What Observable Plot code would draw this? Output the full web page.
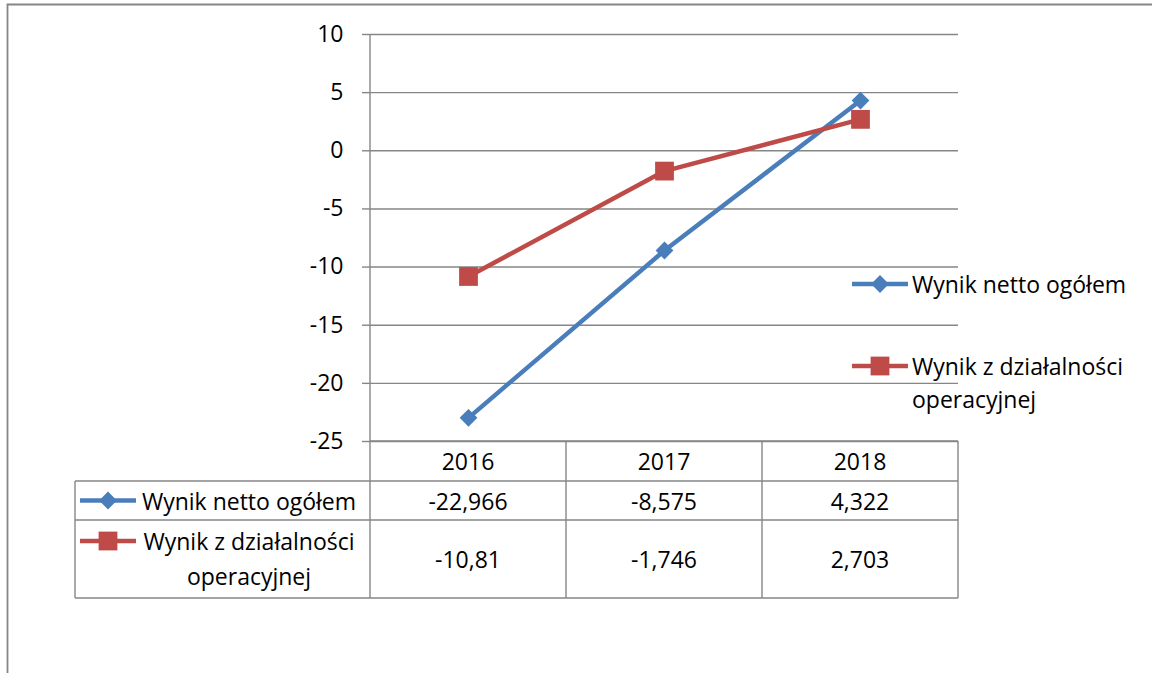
<!DOCTYPE html>
<html><head><meta charset="utf-8">
<script src="https://cdn.jsdelivr.net/npm/d3@7"></script>
<script src="https://cdn.jsdelivr.net/npm/@observablehq/plot@0.6"></script>
<style>body{margin:0;background:#fff;} svg{display:block}</style>
</head><body><div id="chart"></div>
<script>
const years = ["2016", "2017", "2018"];
const seriesNames = ["Wynik netto ogółem", "Wynik z działalności operacyjnej"];
const seriesLabelLines = [["Wynik netto ogółem"], ["Wynik z działalności", "operacyjnej"]];
const nettoValues = [-22.966, -8.575, 4.322];
const operValues = [-10.81, -1.746, 2.703];
const nettoText = ["-22,966", "-8,575", "4,322"];
const operText = ["-10,81", "-1,746", "2,703"];
const yTicks = [10, 5, 0, -5, -10, -15, -20, -25];
const colors = ["#4A7EBB", "#BE4B48"];
const symbolNames = ["diamond2", "square"];

const FONT = "'Open Sans', sans-serif";
const FS = 23;
const W = 1152, H = 673;
const M = {left: 370, right: 194, top: 34, bottom: 232};
const GRID = "#868686";

const rows = [];
years.forEach((y, i) => {
  rows.push({year: y, series: seriesNames[0], value: nettoValues[i]});
  rows.push({year: y, series: seriesNames[1], value: operValues[i]});
});
const R = [8, 10.6];

const plot = Plot.plot({
  width: W, height: H,
  marginLeft: M.left, marginRight: M.right, marginTop: M.top, marginBottom: M.bottom,
  style: {fontFamily: FONT, fontSize: FS + "px", color: "#000", background: "#fff", overflow: "visible"},
  x: {type: "point", domain: years, padding: 0.5, axis: null},
  y: {domain: [-25, 10], axis: null},
  color: {domain: seriesNames, range: colors},
  symbol: {domain: seriesNames, range: symbolNames},
  marks: [
    Plot.gridY(yTicks, {stroke: GRID, strokeOpacity: 1, strokeWidth: 1.4}),
    Plot.axisY(yTicks, {tickSize: 8, tickPadding: 19, stroke: GRID, strokeOpacity: 1, strokeWidth: 1.4,
      tickFormat: d => String(d), fontSize: FS, fill: "#000", label: null}),
    Plot.line(rows, {x: "year", y: "value", z: "series", stroke: "series", strokeWidth: 4.5}),
    Plot.dot(rows.filter(d => d.series === seriesNames[0]), {x: "year", y: "value", fill: "series", symbol: "series", r: R[0], stroke: "none"}),
    Plot.dot(rows.filter(d => d.series === seriesNames[1]), {x: "year", y: "value", fill: "series", symbol: "series", r: R[1], stroke: "none"})
  ]
});
document.getElementById("chart").appendChild(plot);

// Data table, legend, axis line and outer border drawn from the plot's scales
const svg = d3.select(plot);
const xs = plot.scale("x");
const ys = plot.scale("y");
const step = xs.apply(years[1]) - xs.apply(years[0]);
const colEdges = [xs.apply(years[0]) - step / 2, ...years.map(y => xs.apply(y) + step / 2)];
const frameTop = ys.apply(10), frameBottom = ys.apply(-25);
const tableLeft = 75;
const rowEdges = [frameBottom, frameBottom + 40, frameBottom + 79, frameBottom + 157];
const g = svg.append("g").attr("stroke", GRID).attr("stroke-width", 1.4).attr("fill", "none");
g.append("line").attr("x1", colEdges[0]).attr("x2", colEdges[0]).attr("y1", frameTop).attr("y2", rowEdges[3]);
colEdges.slice(1).forEach(x => g.append("line").attr("x1", x).attr("x2", x).attr("y1", rowEdges[0]).attr("y2", rowEdges[3]));
g.append("line").attr("x1", tableLeft).attr("x2", tableLeft).attr("y1", rowEdges[1]).attr("y2", rowEdges[3]);
g.append("line").attr("x1", colEdges[0]).attr("x2", colEdges[3]).attr("y1", rowEdges[0]).attr("y2", rowEdges[0]);
rowEdges.slice(1).forEach(y => g.append("line").attr("x1", tableLeft).attr("x2", colEdges[3]).attr("y1", y).attr("y2", y));
g.append("path").attr("d", `M7.5,${H} V4.5 H${W}`).attr("stroke-width", 1.8);

const t = svg.append("g").attr("font-family", FONT).attr("font-size", FS).attr("fill", "#000");
function txt(x, y, s, anchor = "middle") {
  t.append("text").attr("x", x).attr("y", y).attr("text-anchor", anchor).attr("dominant-baseline", "central").text(s);
}
years.forEach((y, i) => txt(xs.apply(y), (rowEdges[0] + rowEdges[1]) / 2, y));
nettoText.forEach((s, i) => txt(xs.apply(years[i]), (rowEdges[1] + rowEdges[2]) / 2, s));
operText.forEach((s, i) => txt(xs.apply(years[i]), (rowEdges[2] + rowEdges[3]) / 2, s));

const d3sym = {diamond2: d3.symbolDiamond2, square: d3.symbolSquare};
function key(cx, cy, i) {
  svg.append("line").attr("x1", cx - 28).attr("x2", cx + 28).attr("y1", cy).attr("y2", cy)
    .attr("stroke", colors[i]).attr("stroke-width", 4.5);
  svg.append("path").attr("d", d3.symbol(d3sym[symbolNames[i]], R[i] * R[i] * Math.PI)())
    .attr("transform", `translate(${cx},${cy})`).attr("fill", colors[i]);
}
const labelCx = 249;
key(108, (rowEdges[1] + rowEdges[2]) / 2, 0);
txt(labelCx, (rowEdges[1] + rowEdges[2]) / 2, seriesLabelLines[0][0]);
key(108, rowEdges[2] + 21, 1);
txt(labelCx, rowEdges[2] + 21, seriesLabelLines[1][0]);
txt(labelCx, rowEdges[2] + 56, seriesLabelLines[1][1]);

const legX = 880;
const legY = [284, 366];
seriesLabelLines.forEach((lines, i) => {
  key(legX, legY[i], i);
  lines.forEach((s, j) => txt(legX + 32, legY[i] + j * 33, s, "start"));
});
</script>
</body></html>
